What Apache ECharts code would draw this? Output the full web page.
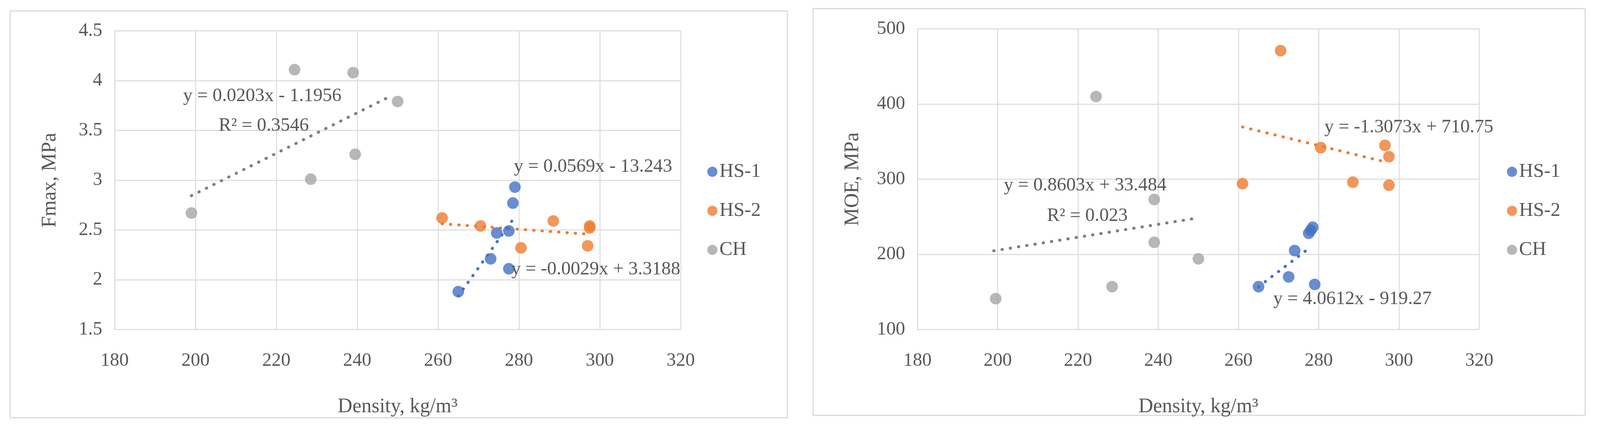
<!DOCTYPE html><html><head><meta charset="utf-8">
<script src="https://cdn.jsdelivr.net/npm/echarts@6/dist/echarts.min.js"></script>
<style>html,body{margin:0;background:#fff;overflow:hidden}#c{width:100vw;height:100vh}</style></head><body><div id="c"></div>
<script>
const xTicks=[180,200,220,240,260,280,300,320];
const seriesNames=['HS-1','HS-2','CH'];
const colors=['#4472C4','#ED7D31','#A5A5A5'];
// Fmax chart
const fHS1=[[265,1.88],[273,2.21],[274.5,2.47],[277.5,2.11],[277.5,2.49],[278.5,2.77],[279,2.93]];
const fHS2=[[261,2.62],[270.5,2.54],[280.5,2.32],[288.5,2.59],[297,2.34],[297.5,2.54],[297.5,2.52]];
const fCH=[[199,2.67],[224.5,4.11],[228.5,3.01],[239,4.08],[239.5,3.26],[250,3.79]];
const fTrendHS1=[[265,1.836],[279,2.632]];
const fTrendHS2=[[261,2.562],[298,2.455]];
const fTrendCH=[[199,2.844],[248,3.839]];
// MOE chart
const mHS1=[[265,157],[272.5,170],[274,205],[277.5,228],[278,232],[278.5,236],[279,160]];
const mHS2=[[261,294],[270.5,471],[280.5,342],[288.5,296],[296.5,345],[297.5,330],[297.5,292]];
const mCH=[[199.5,141],[224.5,410],[228.5,157],[239,273],[239,216],[250,194]];
const mTrendHS1=[[265,156.9],[278,209.7]];
const mTrendHS2=[[261,369.5],[297,322.5]];
const mTrendCH=[[199,204.7],[249,247.7]];
const fLabels=[['y = 0.0203x - 1.1956',505,246],['R² = 0.3546',603,322],['y = 0.0569x - 13.243',1417,427],['y = -0.0029x + 3.3188',1410,690]];
const mLabels=[['y = -1.3073x + 710.75',3652,326],['y = 0.8603x + 33.484',2768,475],['R² = 0.023',2887,553],['y = 4.0612x - 919.27',3511,766]];

const el=document.getElementById('c');
const W=el.clientWidth||4412, H=el.clientHeight||1104;
const sx=W/4412, sy=H/1104, s=Math.min(sx,sy);
const X=v=>v*sx, Y=v=>v*sy, S=v=>v*s;
const FONT='Liberation Serif', TC='#595959';
function xAx(i){return {type:'value',gridIndex:i,min:180,max:320,interval:20,name:'Density, kg/m³',nameLocation:'middle',nameGap:Y(172),
 nameTextStyle:{fontFamily:FONT,fontSize:S(56),color:TC},axisLabel:{fontFamily:FONT,fontSize:S(52),color:TC,margin:Y(56)},
 axisLine:{show:false},axisTick:{show:false},splitLine:{lineStyle:{color:'#D9D9D9',width:S(2.5)}}};}
function yAx(i,min,max,iv,name){return {type:'value',gridIndex:i,min,max,interval:iv,name,nameLocation:'middle',nameGap:X(150),
 nameTextStyle:{fontFamily:FONT,fontSize:S(56),color:TC},axisLabel:{fontFamily:FONT,fontSize:S(52),color:TC,margin:X(34)},
 axisLine:{show:true,lineStyle:{color:'#D9D9D9',width:S(2.5)}},axisTick:{show:false},splitLine:{lineStyle:{color:'#D9D9D9',width:S(2.5)}}};}
const series=[];
[[fHS1,fHS2,fCH,fTrendHS1,fTrendHS2,fTrendCH,0],[mHS1,mHS2,mCH,mTrendHS1,mTrendHS2,mTrendCH,1]].forEach(g=>{
 const gi=g[6];
 for(let k=0;k<3;k++){
  series.push({type:'line',name:seriesNames[k]+'t',xAxisIndex:gi,yAxisIndex:gi,data:g[3+k],showSymbol:false,
   lineStyle:{color:k===2?'#7F7F7F':colors[k],width:S(8),type:[S(1),S(22)],cap:'round'},silent:true,z:1});
 }
 for(let k=0;k<3;k++){
  series.push({type:'scatter',name:seriesNames[k],xAxisIndex:gi,yAxisIndex:gi,data:g[k],symbolSize:S(32),itemStyle:{color:colors[k]},z:3});
 }
});
const graphic=[
 {type:'rect',shape:{x:X(28),y:Y(28),width:X(2143),height:Y(1042)},style:{fill:'none',stroke:'#D9D9D9',lineWidth:S(3)}},
 {type:'rect',shape:{x:X(2242),y:Y(22),width:X(2129),height:Y(1042)},style:{fill:'none',stroke:'#D9D9D9',lineWidth:S(3)}}
];
fLabels.concat(mLabels).forEach(l=>graphic.push({type:'text',x:X(l[1]),y:Y(l[2]),style:{text:l[0],font:S(52)+'px "Liberation Serif"',fill:TC,verticalAlign:'middle'},z:10}));
function leg(left){return {data:seriesNames,orient:'vertical',left:X(left),top:Y(410),itemGap:Y(50),itemWidth:S(28),itemHeight:S(28),icon:'circle',
 textStyle:{fontFamily:FONT,fontSize:S(54),color:TC}};}
const chart=echarts.init(el,null,{width:W,height:H});
chart.setOption({animation:false,backgroundColor:'#fff',
 grid:[{left:X(316),top:Y(79),width:X(1561),height:Y(765)},{left:X(2530),top:Y(74),width:X(1549),height:Y(770)}],
 xAxis:[xAx(0),xAx(1)],
 yAxis:[yAx(0,1.5,4.5,0.5,'Fmax, MPa'),yAx(1,100,500,100,'MOE, MPa')],
 legend:[leg(1945),leg(4150)],
 series,graphic});
</script></body></html>
